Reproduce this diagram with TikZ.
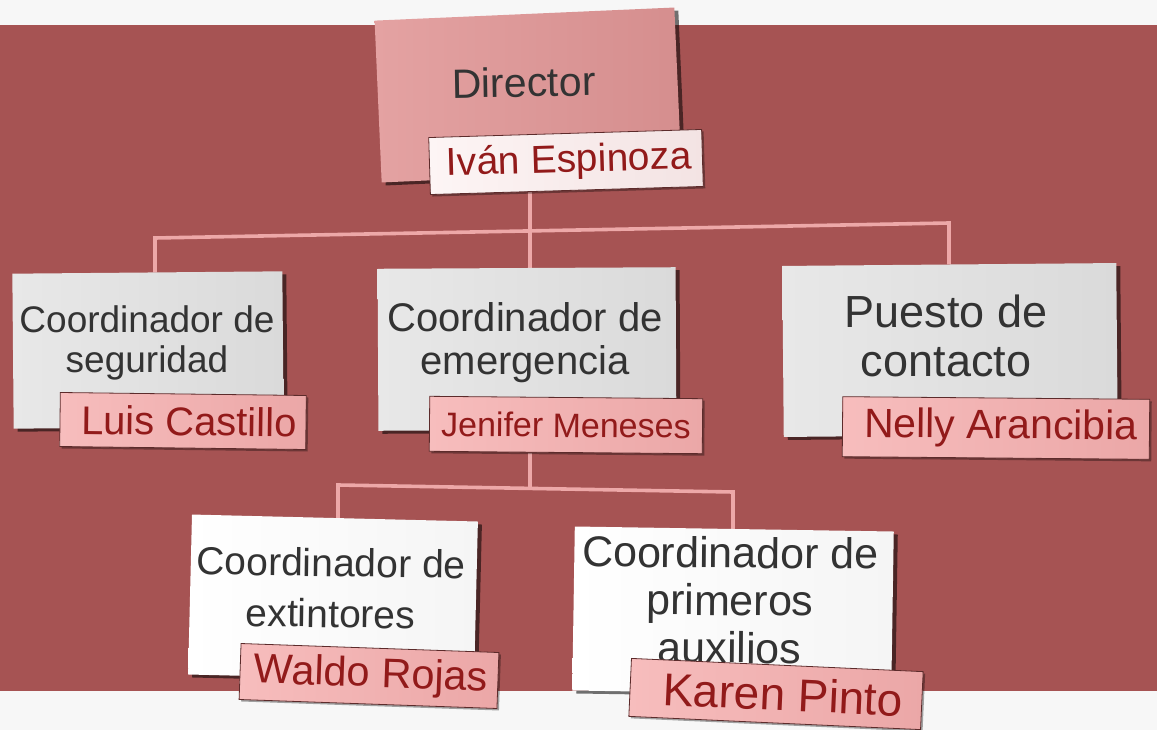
\documentclass[tikz,border=0pt]{standalone}
\usepackage{fontspec}
\setmainfont{Liberation Sans}
\usetikzlibrary{shadows}
\definecolor{bgred}{HTML}{A65353}
\definecolor{bggray}{HTML}{F7F7F7}
\definecolor{conncol}{HTML}{EDA8A8}
\definecolor{boxtxt}{HTML}{333333}
\definecolor{nametxt}{HTML}{921A1A}
\definecolor{nameborder}{HTML}{5C2B2B}
\definecolor{dirA}{HTML}{E4A2A2}
\definecolor{dirB}{HTML}{D58E8E}
\definecolor{grayA}{HTML}{E8E8E8}
\definecolor{grayB}{HTML}{DADADA}
\definecolor{whiteB}{HTML}{F5F5F5}
\definecolor{pinkA}{HTML}{F7BDBD}
\definecolor{pinkB}{HTML}{EBA7A7}
\definecolor{paleA}{HTML}{FDF5F5}
\definecolor{paleB}{HTML}{F3E3E3}
\pgfdeclarelayer{background}
\pgfsetlayers{background,main}
\tikzset{
  conn/.style={draw=conncol, line width=3.6pt},
  card/.style={rectangle, inner sep=0pt,
    drop shadow={shadow xshift=4pt, shadow yshift=-3pt, opacity=0.55, fill=black}},
  dirbox/.style={card, left color=dirA, right color=dirB},
  graybox/.style={card, left color=grayA, right color=grayB},
  whitebox/.style={card, left color=white, right color=whiteB},
  namebox/.style={rectangle, draw=nameborder, line width=0.8pt, inner sep=0pt,
    left color=pinkA, right color=pinkB, text=nametxt,
    drop shadow={shadow xshift=2pt, shadow yshift=-2pt, opacity=0.35, fill=black}},
  palebox/.style={namebox, left color=paleA, right color=paleB},
  boxlabel/.style={text=boxtxt, align=center, inner sep=0pt},
}
\begin{document}
\begin{tikzpicture}[x=1pt, y=-1pt]
\useasboundingbox (0,0) rectangle (1157,730);

% Director
\node[dirbox, minimum width=300pt, minimum height=162pt, rotate=2.5] (dir) at (528,95) {};
\node[boxlabel, font=\fontsize{41}{45}\selectfont, anchor=base, rotate=1] (dirT) at (524,97) {Director};
\node[palebox, minimum width=273pt, minimum height=57pt, rotate=1.7,
  font=\fontsize{39}{43}\selectfont] (ivan) at (566,162) {\hspace{6pt}Iván Espinoza};

% Coordinador de seguridad
\node[graybox, minimum width=270pt, minimum height=155pt, rotate=0.5] (seg) at (148,350) {};
\node[boxlabel, font=\fontsize{37}{40}\selectfont] (segT) at (147,343) {Coordinador de\\seguridad};
\node[namebox, minimum width=246pt, minimum height=54pt, rotate=-0.7,
  font=\fontsize{40}{44}\selectfont] (luis) at (183,421) {\hspace{12pt}Luis Castillo};

% Coordinador de emergencia
\node[graybox, minimum width=298pt, minimum height=162pt, rotate=0.3] (eme) at (527,349) {};
\node[boxlabel, font=\fontsize{40}{43}\selectfont] (emeT) at (525,343) {Coordinador de\\emergencia};
\node[namebox, minimum width=273pt, minimum height=55pt, rotate=-0.5,
  font=\fontsize{34}{38}\selectfont] (jen) at (566,425) {Jenifer Meneses};

% Puesto de contacto
\node[graybox, minimum width=334pt, minimum height=171pt, rotate=0.5] (pue) at (950,350) {};
\node[boxlabel, font=\fontsize{45}{49}\selectfont] (pueT) at (946,336) {Puesto de\\contacto};
\node[namebox, minimum width=307pt, minimum height=60pt, rotate=-0.5,
  font=\fontsize{41}{45}\selectfont] (nelly) at (996,428) {\hspace{10pt}Nelly Arancibia};

% Coordinador de extintores
\node[whitebox, minimum width=286pt, minimum height=160pt, rotate=-1.4] (ext) at (333,598) {};
\node[boxlabel, font=\fontsize{39}{51}\selectfont, rotate=-0.8] (extT) at (331,588) {Coordinador de\\extintores};
\node[namebox, minimum width=258pt, minimum height=56pt, rotate=-2,
  font=\fontsize{41.5}{45}\selectfont] (waldo) at (369,676) {\hspace{4pt}Waldo Rojas};

% Coordinador de primeros auxilios
\node[whitebox, minimum width=319pt, minimum height=164pt, rotate=-0.9] (aux) at (733,611) {};
\node[boxlabel, font=\fontsize{43}{47.5}\selectfont, rotate=-0.5] (auxT) at (730,600) {Coordinador de\\primeros\\auxilios};
\node[namebox, minimum width=292pt, minimum height=58pt, rotate=-2.6,
  font=\fontsize{46}{50}\selectfont] (karen) at (776,694) {\hspace{14pt}Karen Pinto};

% junction points
\coordinate (t1) at (530,231);
\coordinate (tL) at (155,238);
\coordinate (tR) at (949,223);
\coordinate (b1) at (530,488);
\coordinate (bL) at (338,485);
\coordinate (bR) at (733,492);

\begin{pgfonlayer}{background}
  \fill[bggray] (0,0) rectangle (1157,730);
  \fill[bgred] (0,25) rectangle (1157,691);
  \draw[conn] (ivan.south -| t1) -- (t1);
  \draw[conn] (seg.north -| tL) -- (tL) -- (tR) -- (pue.north -| tR);
  \draw[conn] (t1) -- (eme.north -| t1);
  \draw[conn] (jen.south -| b1) -- (b1);
  \draw[conn] (ext.north -| bL) -- (bL) -- (bR) -- (aux.north -| bR);
\end{pgfonlayer}
\end{tikzpicture}
\end{document}
